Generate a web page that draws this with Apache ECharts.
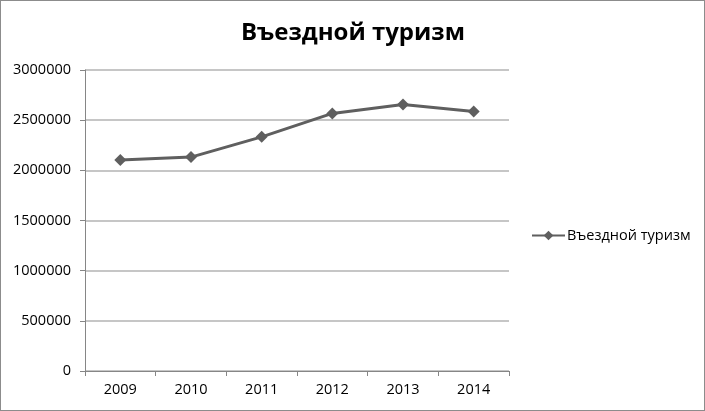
<!DOCTYPE html>
<html>
<head>
<meta charset="utf-8">
<script src="https://cdn.jsdelivr.net/npm/echarts@6/dist/echarts.min.js"></script>
<style>
  html, body { margin: 0; padding: 0; background: #fff; }
  #chart { width: 703px; height: 409px; border: 1px solid #8c8c8c; }
</style>
</head>
<body>
<div id="chart"></div>
<script>
// categories and values
const years = ["2009", "2010", "2011", "2012", "2013", "2014"];
const inbound = [2102000, 2132000, 2334000, 2567000, 2656000, 2586000];
const seriesName = "Въездной туризм";
const titleText = "Въездной туризм";

const chart = echarts.init(document.getElementById("chart"), null, { renderer: "canvas" });

const font = "'Open Sans', 'DejaVu Sans', sans-serif";

let option = {
  animation: false,
  title: {
    text: titleText,
    left: 347, top: 15,
    textAlign: "center",
    textStyle: { fontFamily: font, fontWeight: "bold", fontSize: 24, color: "#000" }
  },
  legend: {
    data: [seriesName],
    left: 525, top: 222,
    itemWidth: 33, itemHeight: 12,
    itemGap: 4,
    textStyle: { fontFamily: font, fontSize: 14.5, color: "#000", padding: [0, 0, 0, -3] }
  },
  grid: { left: 84, top: 69, width: 424, height: 301, containLabel: false },
  xAxis: {
    type: "category",
    data: years,
    boundaryGap: true,
    axisLine: { lineStyle: { color: "#868686", width: 1 } },
    axisTick: { show: true, length: 5, lineStyle: { color: "#868686" } },
    axisLabel: { fontFamily: font, fontSize: 14.5, color: "#000", margin: 11 }
  },
  yAxis: {
    type: "value",
    min: 0, max: 3000000, interval: 500000,
    axisLine: { show: true, lineStyle: { color: "#868686", width: 1 } },
    axisTick: { show: true, length: 5, lineStyle: { color: "#868686" } },
    axisLabel: { fontFamily: font, fontSize: 14.5, color: "#000", margin: 14, formatter: (v) => String(v) },
    splitLine: { lineStyle: { color: "#b3b3b3", width: 1.5 } }
  },
  series: [{
    name: seriesName,
    type: "line",
    data: inbound,
    symbol: "diamond",
    symbolSize: 12,
    lineStyle: { color: "#5f5f5f", width: 3 },
    itemStyle: { color: "#5f5f5f" }
  }]
};

chart.setOption(option);
</script>
</body>
</html>
